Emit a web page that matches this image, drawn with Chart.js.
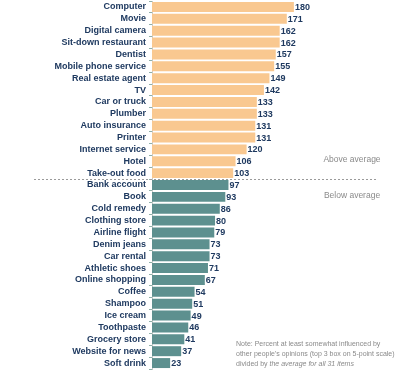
<!DOCTYPE html>
<html>
<head>
<meta charset="utf-8">
<script src="https://cdn.jsdelivr.net/npm/chart.js@4"></script>
<style>
  html, body { margin: 0; padding: 0; background: #fff; }
  #wrap { position: relative; width: 420px; height: 374px; }
</style>
</head>
<body>
<div id="wrap"><canvas id="chart" width="420" height="374"></canvas></div>
<script>
// Data
const items = [
  'Computer', 'Movie', 'Digital camera', 'Sit-down restaurant', 'Dentist',
  'Mobile phone service', 'Real estate agent', 'TV', 'Car or truck', 'Plumber',
  'Auto insurance', 'Printer', 'Internet service', 'Hotel', 'Take-out food',
  'Bank account', 'Book', 'Cold remedy', 'Clothing store', 'Airline flight',
  'Denim jeans', 'Car rental', 'Athletic shoes', 'Online shopping', 'Coffee',
  'Shampoo', 'Ice cream', 'Toothpaste', 'Grocery store', 'Website for news', 'Soft drink'
];
const indexValues = [
  180, 171, 162, 162, 157, 155, 149, 142, 133, 133, 131, 131, 120, 106, 103,
  97, 93, 86, 80, 79, 73, 73, 71, 67, 54, 51, 49, 46, 41, 37, 23
];
const average = 100;
const noteLines = [
  'Note: Percent at least somewhat influenced by',
  "other people's opinions (top 3 box on 5-point scale)"
];

const ORANGE = '#f9c890';
const TEAL = '#5d908f';
const NAVY = '#1f3a60';

// Value labels + average divider + notes
const extras = {
  id: 'extras',
  afterDatasetsDraw(chart) {
    const ctx = chart.ctx;
    const meta = chart.getDatasetMeta(0);
    const y = chart.scales.y;

    ctx.save();
    ctx.font = 'bold 9px "Liberation Sans", Arial, sans-serif';
    ctx.fillStyle = NAVY;
    ctx.textBaseline = 'middle';
    ctx.textAlign = 'left';
    meta.data.forEach((bar, i) => {
      ctx.fillText(indexValues[i], bar.x + 1, bar.y + 0.5);
    });

    // divider between above / below average
    const split = indexValues.findIndex(v => v < average);
    const yLine = Math.round((y.getPixelForValue(split - 1) + y.getPixelForValue(split)) / 2) + 0.5;
    ctx.strokeStyle = '#9a9a9a';
    ctx.lineWidth = 1;
    ctx.setLineDash([2, 2]);
    ctx.beginPath();
    ctx.moveTo(34, yLine);
    ctx.lineTo(376, yLine);
    ctx.stroke();
    ctx.setLineDash([]);

    ctx.font = '8.5px "Liberation Sans", Arial, sans-serif';
    ctx.fillStyle = '#8a8a8a';
    ctx.textAlign = 'center';
    ctx.fillText('Above average', 352, y.getPixelForValue(split - 2) - 2);
    ctx.fillText('Below average', 352, y.getPixelForValue(split + 1) - 1);

    // note
    ctx.font = '7px "Liberation Sans", Arial, sans-serif';
    ctx.textAlign = 'left';
    ctx.fillStyle = '#8a8a8a';
    ctx.fillText(noteLines[0], 236, 344);
    ctx.fillText(noteLines[1], 236, 354);
    const pre = 'divided by ';
    ctx.fillText(pre, 236, 364);
    const w = ctx.measureText(pre).width;
    ctx.font = 'italic 7px "Liberation Sans", Arial, sans-serif';
    ctx.fillText('the average for all 31 items', 236 + w, 364);
    ctx.restore();
  }
};

new Chart(document.getElementById('chart'), {
  type: 'bar',
  data: {
    labels: items,
    datasets: [{
      data: indexValues,
      backgroundColor: indexValues.map(v => v >= average ? ORANGE : TEAL),
      borderWidth: 0,
      barPercentage: 0.84,
      categoryPercentage: 1
    }]
  },
  options: {
    indexAxis: 'y',
    responsive: false,
    animation: false,
    layout: { padding: { top: 1, bottom: 5, left: 0, right: 0 } },
    plugins: { legend: { display: false }, tooltip: { enabled: false } },
    scales: {
      x: { display: false, min: 0, max: 340 },
      y: {
        afterFit: (scale) => {
          scale.width = 152;
          scale.paddingTop = 0;
          scale.paddingBottom = 0;
        },
        grid: { display: true, drawOnChartArea: false, offset: true, tickLength: 3, color: '#8fb0a8' },
        border: { display: true, color: '#c8c8c8' },
        ticks: {
          color: NAVY,
          padding: 3,
          autoSkip: false,
          font: { family: '"Liberation Sans", Arial, sans-serif', size: 9, weight: 'bold' }
        }
      }
    }
  },
  plugins: [extras]
});
</script>
</body>
</html>
